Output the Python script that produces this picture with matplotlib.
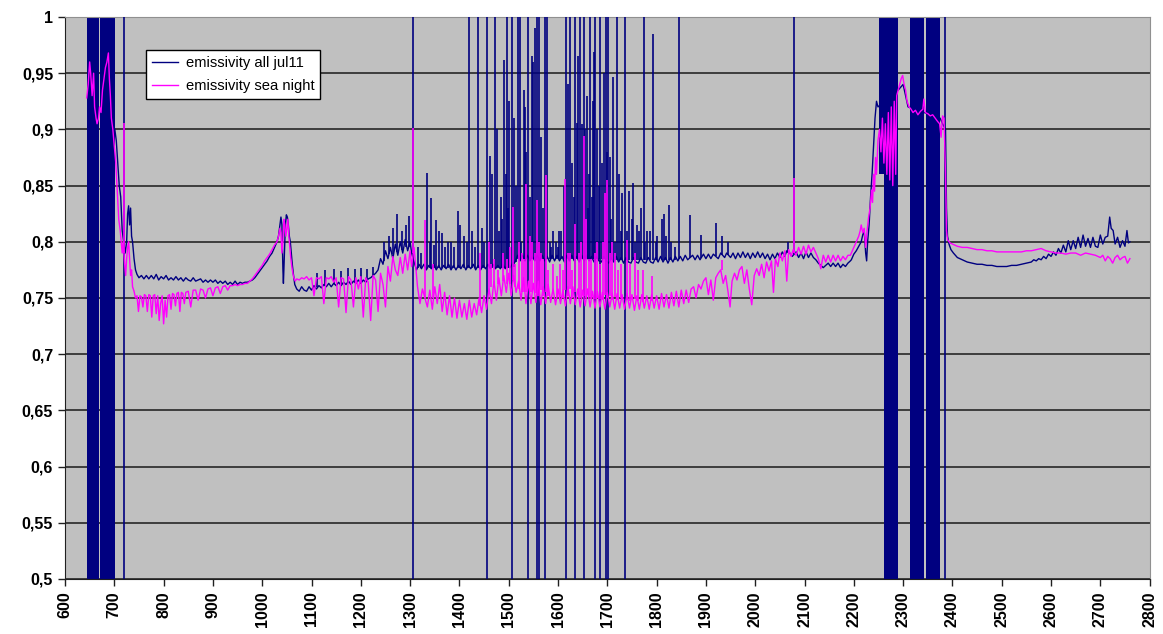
import numpy as np
import matplotlib
matplotlib.use("Agg")
import matplotlib.pyplot as plt
from matplotlib.ticker import FuncFormatter, MultipleLocator

# emissivity spectrum, wavenumber (cm-1) vs emissivity
navy_x = [
    701, 704, 707, 710, 713, 716, 719, 722, 725, 727, 729, 731, 733, 735, 737, 740, 743, 746,
    750, 755, 760, 765, 770, 775, 780, 785, 790, 795, 800, 805, 810, 815, 820, 825, 830, 835,
    840, 845, 850, 855, 860, 865, 870, 875, 880, 885, 890, 895, 900, 905, 910, 915, 920, 925,
    930, 935, 940, 945, 950, 955, 960, 965, 970, 975, 980, 985, 990, 995, 1000, 1005, 1010,
    1015, 1020, 1025, 1030, 1033, 1036, 1038, 1040, 1042, 1043, 1045, 1047, 1049, 1051, 1053,
    1055, 1057, 1059, 1061, 1063, 1066, 1070, 1075, 1080, 1085, 1090, 1095, 1100, 1105, 1110,
    1115, 1120, 1125, 1130, 1135, 1140, 1145, 1150, 1155, 1160, 1165, 1170, 1175, 1180, 1185,
    1190, 1195, 1200, 1205, 1210, 1215, 1220, 1225, 1230, 1235, 1240, 1245, 1250, 1255, 1260,
    1265, 1270, 1275, 1280, 1285, 1290, 1295, 1300, 1303,
    1308, 1313, 1318, 1323, 1328, 1333, 1338, 1343, 1348, 1353, 1358, 1363, 1368, 1373, 1378,
    1383, 1388, 1393, 1398, 1403, 1408, 1413, 1418, 1423, 1428, 1433, 1438, 1443, 1448, 1453,
    1458, 1463, 1468, 1473, 1478, 1483, 1488, 1493, 1498, 1503, 1508, 1513, 1518, 1523, 1528,
    1533, 1538, 1543, 1548, 1553, 1558, 1563, 1568, 1573, 1578, 1583, 1588, 1593, 1598, 1603,
    1608, 1613, 1618, 1623, 1628, 1633, 1638, 1643, 1648, 1653, 1658, 1663, 1668, 1673, 1678,
    1683, 1688, 1693, 1698, 1703, 1708, 1713, 1718, 1723, 1728, 1733, 1738, 1743, 1748, 1753,
    1758, 1763, 1768, 1773, 1778, 1783, 1788, 1793, 1798, 1803, 1808, 1813, 1818, 1823, 1828,
    1833, 1838, 1843, 1848, 1853, 1858, 1863, 1873, 1878, 1883, 1888, 1895, 1900, 1905, 1910,
    1915, 1925, 1930, 1938, 1942, 1950, 1955, 1960, 1965, 1970, 1975, 1980, 1985, 1990, 1995,
    2000, 2005, 2010, 2015, 2020, 2025, 2030, 2035, 2040, 2045, 2050, 2055, 2060, 2064, 2070,
    2075, 2083, 2088, 2093, 2098, 2103, 2108, 2113, 2118, 2123, 2128, 2133, 2138, 2143, 2148,
    2153, 2158, 2163, 2168, 2173, 2178, 2183, 2188, 2193, 2195, 2200, 2205, 2210, 2215, 2218,
    2221, 2224, 2226, 2228, 2231, 2234, 2237, 2240, 2243, 2246, 2249, 2290, 2300, 2310,
    2375, 2380, 2386, 2388, 2390, 2393, 2397, 2402, 2410, 2420, 2430, 2440, 2450, 2460, 2470,
    2480, 2490, 2500, 2510, 2520, 2530, 2540, 2550, 2560, 2565, 2570, 2575, 2580, 2585, 2590,
    2595, 2600, 2605, 2610, 2615, 2620, 2625, 2630, 2635, 2640, 2645, 2650, 2655, 2660, 2665,
    2670, 2675, 2680, 2685, 2690, 2695, 2700, 2705, 2710, 2715, 2719, 2722, 2726, 2730, 2735,
    2740, 2745, 2750, 2754, 2757, 2760,
]
navy_y = [
    0.900, 0.890, 0.870, 0.850, 0.840, 0.810, 0.800, 0.790, 0.800, 0.825, 0.832, 0.815, 0.830,
    0.805, 0.800, 0.785, 0.775, 0.771,
    0.768, 0.770, 0.767, 0.770, 0.767, 0.770, 0.767, 0.771, 0.766, 0.769, 0.767, 0.770, 0.766,
    0.768, 0.766, 0.769, 0.766, 0.768, 0.765, 0.768, 0.766, 0.765, 0.768, 0.765, 0.766, 0.767,
    0.764, 0.766, 0.764, 0.766, 0.764, 0.766, 0.763, 0.765, 0.763, 0.765, 0.762, 0.764, 0.762,
    0.765, 0.762, 0.764, 0.763, 0.764, 0.764, 0.765, 0.766, 0.768, 0.771, 0.774, 0.777, 0.780,
    0.783, 0.787, 0.790, 0.795, 0.800, 0.805, 0.815, 0.822, 0.815, 0.775, 0.763, 0.790, 0.815,
    0.824, 0.822, 0.815, 0.805, 0.800, 0.790, 0.780, 0.772, 0.762, 0.758, 0.756, 0.760, 0.757,
    0.756, 0.760, 0.757, 0.761, 0.758, 0.761, 0.759, 0.762, 0.760, 0.763, 0.760, 0.763, 0.761,
    0.764, 0.761, 0.764, 0.762, 0.765, 0.762, 0.765, 0.763, 0.766, 0.763, 0.766, 0.764, 0.767,
    0.768, 0.770, 0.772, 0.775, 0.785, 0.780, 0.792, 0.785, 0.795, 0.785, 0.798, 0.788, 0.800,
    0.790, 0.802, 0.792, 0.800, 0.790,
    0.782, 0.775, 0.780, 0.776, 0.780, 0.775, 0.779, 0.776, 0.780, 0.775, 0.779, 0.775, 0.779,
    0.776, 0.780, 0.775, 0.779, 0.775, 0.779, 0.776, 0.780, 0.775, 0.779, 0.776, 0.780, 0.775,
    0.779, 0.775, 0.779, 0.776, 0.780, 0.776, 0.780, 0.776, 0.779, 0.776, 0.780, 0.776, 0.780,
    0.777, 0.781, 0.782, 0.788, 0.783, 0.788, 0.783, 0.788, 0.783, 0.787, 0.783, 0.788, 0.783,
    0.788, 0.783, 0.787, 0.782, 0.788, 0.783, 0.788, 0.783, 0.787, 0.782, 0.788, 0.783, 0.788,
    0.783, 0.787, 0.782, 0.788, 0.783, 0.788, 0.783, 0.787, 0.782, 0.787, 0.783, 0.782, 0.787,
    0.783, 0.781, 0.786, 0.782, 0.787, 0.782, 0.786, 0.781, 0.786, 0.782, 0.781, 0.786, 0.782,
    0.781, 0.786, 0.782, 0.781, 0.786, 0.782, 0.781, 0.786, 0.782, 0.787, 0.782, 0.786, 0.781,
    0.786, 0.782, 0.787, 0.783, 0.787, 0.783, 0.788, 0.784, 0.788, 0.784, 0.788, 0.784, 0.789,
    0.785, 0.789, 0.785, 0.789, 0.785, 0.790, 0.786, 0.790, 0.786, 0.790, 0.785, 0.790, 0.786,
    0.791, 0.786, 0.790, 0.785, 0.790, 0.786, 0.791, 0.786, 0.790, 0.785, 0.789, 0.784, 0.789,
    0.785, 0.790, 0.786, 0.791, 0.787, 0.792, 0.790, 0.787, 0.791, 0.786, 0.790, 0.785, 0.791,
    0.786, 0.790, 0.786, 0.784, 0.781, 0.779, 0.777, 0.779, 0.781, 0.778, 0.781, 0.778, 0.781,
    0.777, 0.780, 0.778, 0.781, 0.783, 0.784, 0.789, 0.792, 0.796, 0.800, 0.806, 0.810, 0.790,
    0.783, 0.800, 0.815, 0.840, 0.860, 0.885, 0.910, 0.925, 0.920, 0.935, 0.940, 0.920,
    0.910, 0.905, 0.900, 0.830, 0.805, 0.798, 0.793, 0.790, 0.786, 0.784, 0.782, 0.781, 0.780,
    0.780, 0.779, 0.779, 0.778, 0.778, 0.778, 0.779, 0.779, 0.780, 0.781, 0.782, 0.784, 0.783,
    0.785, 0.784, 0.787, 0.785, 0.789, 0.787, 0.791, 0.788, 0.794, 0.790, 0.797, 0.791, 0.801,
    0.793, 0.801, 0.794, 0.804, 0.795, 0.806, 0.796, 0.803, 0.795, 0.804, 0.796, 0.795, 0.806,
    0.798, 0.804, 0.805, 0.822, 0.812, 0.810, 0.798, 0.804, 0.795, 0.801, 0.796, 0.810, 0.799,
    0.800,
]

# narrow lines of the navy series: position, foot, tip (1.2 / 0.4 run off the chart)
navy_spike_x = [
    720, 1112, 1128, 1145, 1160, 1175, 1188, 1200, 1212, 1225, 1247, 1258, 1266, 1273, 1283,
    1292, 1297, 1305, 1334, 1343, 1353, 1364, 1376, 1398, 1402, 1410, 1420, 1426, 1438, 1445,
    1456, 1462, 1467, 1472, 1476, 1484, 1490, 1494, 1496, 1501, 1506, 1510, 1515, 1519, 1523,
    1530, 1533, 1535, 1540, 1547, 1549, 1553, 1557, 1561, 1566, 1574, 1577, 1583, 1590, 1600,
    1607, 1613, 1617, 1621, 1624, 1628, 1635, 1638, 1641, 1645, 1648, 1652, 1655, 1658, 1662,
    1665, 1670, 1672, 1676, 1680, 1686, 1690, 1694, 1697, 1701, 1705, 1711, 1719, 1724, 1730,
    1736, 1743, 1750, 1753, 1760, 1768, 1774, 1780, 1787, 1793, 1800, 1810, 1815, 1826, 1830,
    1845, 1868, 1891, 1920, 1933, 1945, 2066, 2079, 2384,
    1315, 1322, 1340, 1349, 1358, 1370, 1382, 1390, 1415, 1432, 1450, 1480, 1487, 1498, 1525,
    1543, 1570, 1586, 1595, 1603, 1632, 1660, 1668, 1683, 1699, 1708, 1715, 1727, 1740, 1757,
    1764, 1777, 1798, 1820, 1838,
]
navy_spike_lo = [
    0.4, 0.760, 0.761, 0.762, 0.762, 0.763, 0.764, 0.764, 0.765, 0.770, 0.783, 0.789, 0.789,
    0.791, 0.793, 0.795, 0.795, 0.4, 0.777, 0.777, 0.777, 0.777, 0.777, 0.777, 0.777, 0.777,
    0.777, 0.777, 0.777, 0.777, 0.4, 0.777, 0.777, 0.777, 0.777, 0.777, 0.777, 0.777, 0.777,
    0.777, 0.4, 0.778, 0.782, 0.785, 0.785, 0.785, 0.785, 0.785, 0.4, 0.785, 0.785, 0.785, 0.4,
    0.4, 0.785, 0.4, 0.785, 0.785, 0.785, 0.785, 0.785, 0.785, 0.4, 0.785, 0.785, 0.785, 0.4,
    0.785, 0.785, 0.785, 0.785, 0.4, 0.785, 0.785, 0.785, 0.785, 0.785, 0.785, 0.4, 0.785, 0.4,
    0.785, 0.785, 0.4, 0.4, 0.784, 0.784, 0.784, 0.784, 0.784, 0.4, 0.784, 0.784, 0.784, 0.784,
    0.784, 0.784, 0.784, 0.784, 0.784, 0.784, 0.784, 0.784, 0.784, 0.784, 0.785, 0.786, 0.786,
    0.787, 0.788, 0.788, 0.790, 0.789, 0.4,
    0.777, 0.777, 0.777, 0.777, 0.777, 0.777, 0.777, 0.777, 0.777, 0.777, 0.777, 0.777, 0.777,
    0.777, 0.785, 0.785, 0.785, 0.785, 0.785, 0.785, 0.785, 0.785, 0.785, 0.785, 0.785, 0.784,
    0.784, 0.784, 0.784, 0.784, 0.784, 0.784, 0.784, 0.784, 0.784,
]
navy_spike_hi = [
    1.2, 0.772, 0.775, 0.776, 0.774, 0.777, 0.776, 0.777, 0.776, 0.778, 0.800, 0.805, 0.812,
    0.825, 0.810, 0.815, 0.823, 1.2, 0.861, 0.839, 0.819, 0.808, 0.800, 0.827, 0.815, 0.805,
    1.2, 0.810, 1.2, 0.812, 1.2, 0.876, 0.860, 1.2, 0.900, 0.840, 0.962, 0.860, 1.2, 0.925,
    1.2, 0.910, 0.850, 1.2, 1.2, 0.935, 0.920, 0.880, 1.2, 0.965, 0.960, 0.990, 1.2, 1.2,
    0.893, 1.2, 1.2, 0.800, 0.810, 0.795, 0.810, 0.850, 1.2, 0.940, 1.2, 0.870, 1.2, 0.906,
    0.965, 1.2, 0.905, 1.2, 0.900, 0.930, 0.860, 1.2, 0.925, 0.969, 1.2, 0.900, 1.2, 0.870,
    0.950, 1.2, 1.2, 0.875, 0.947, 1.2, 0.860, 0.843, 1.2, 0.845, 0.820, 0.852, 0.815, 0.830,
    1.2, 0.810, 0.810, 0.985, 0.805, 0.820, 0.825, 0.833, 0.800, 1.2, 0.824, 0.806, 0.817,
    0.805, 0.800, 0.800, 1.2, 1.2,
    0.795, 0.790, 0.800, 0.797, 0.810, 0.795, 0.800, 0.795, 0.800, 0.795, 0.800, 0.810, 0.820,
    0.830, 0.800, 0.840, 0.830, 0.795, 0.800, 0.810, 0.840, 0.830, 0.840, 0.850, 0.880, 0.820,
    0.800, 0.810, 0.810, 0.800, 0.810, 0.800, 0.800, 0.805, 0.795,
]

magenta_x = [
    644, 647, 650, 652, 655, 658, 660, 663, 665, 668, 670, 673, 676, 679, 682, 685, 688, 690,
    692, 694, 697, 700, 703, 706, 709, 712, 714, 716, 718, 721, 723, 725, 727, 729, 731,
    733, 735, 737, 740, 743, 746, 749, 752, 755, 758, 761, 764, 767, 770, 773, 776, 779, 782,
    785, 788, 791, 794, 797, 800, 803, 806, 809, 812, 815, 818, 821, 824, 827, 830, 833, 836,
    839, 842, 845, 850, 855, 860, 865, 870, 875, 880, 885, 890, 895, 900, 905, 910, 915, 920,
    925, 930, 935, 940, 945, 950, 955, 960, 965, 970, 975, 980, 985, 990, 995, 1000, 1005,
    1010, 1015, 1020, 1025, 1030, 1033, 1036, 1038, 1040, 1042, 1044, 1046, 1048, 1050, 1052,
    1054, 1056, 1058, 1061, 1064, 1067, 1070, 1075, 1080, 1085, 1090, 1095, 1100, 1105, 1110,
    1115, 1120, 1125, 1130, 1135, 1140, 1145, 1150, 1155, 1160, 1165, 1170, 1175, 1180, 1185,
    1190, 1195, 1200, 1205, 1210, 1215, 1220, 1225, 1230, 1235, 1240, 1245, 1250, 1255, 1260,
    1265, 1270, 1275, 1280, 1285, 1290, 1295, 1300, 1303, 1308, 1311, 1315, 1320, 1325, 1335,
    1340, 1345, 1350, 1355, 1360, 1365, 1370, 1375, 1380, 1385, 1390, 1395, 1400, 1405, 1410,
    1415, 1420, 1425, 1430, 1435, 1440, 1445, 1450, 1455, 1460, 1465, 1470, 1475, 1480, 1485,
    1490, 1495, 1500, 1505, 1510, 1515, 1520, 1525, 1530, 1535, 1540, 1545, 1550, 1555, 1560,
    1565, 1570, 1575, 1580, 1585, 1590, 1595, 1600, 1605, 1610, 1615, 1620, 1625, 1630, 1635,
    1640, 1645, 1650, 1655, 1660, 1665, 1670, 1675, 1680, 1685, 1690, 1695, 1700, 1705, 1710,
    1715, 1720, 1725, 1730, 1735, 1740, 1745, 1750, 1755, 1760, 1765, 1770, 1775, 1780, 1785,
    1790, 1795, 1800, 1805, 1810, 1815, 1820, 1825, 1830, 1835, 1840, 1845, 1850, 1855, 1860,
    1865, 1870, 1875, 1880, 1885, 1890, 1895, 1900, 1905, 1910, 1915, 1920, 1925, 1930, 1935,
    1940, 1945, 1949, 1953, 1958, 1963, 1968, 1973, 1978, 1983, 1988, 1993, 1998, 2003, 2008,
    2013, 2018, 2023, 2028, 2033, 2037, 2041, 2046, 2050, 2055, 2060, 2064, 2068, 2073, 2077,
    2083, 2088, 2093, 2098, 2103, 2108, 2113, 2118, 2123, 2128, 2133, 2138, 2143, 2148, 2153,
    2158, 2163, 2168, 2173, 2178, 2183, 2188, 2193, 2195, 2200, 2205, 2210, 2213, 2215, 2218,
    2221, 2224, 2227, 2230, 2233, 2236, 2238, 2240, 2242, 2244, 2246, 2248, 2249, 2252, 2255,
    2258, 2261, 2264, 2267, 2270, 2273, 2276, 2279, 2282, 2285, 2287, 2290, 2293, 2296, 2299,
    2302, 2305, 2308, 2312, 2316, 2320, 2325, 2330, 2335, 2340, 2342, 2345, 2350, 2355, 2360,
    2365, 2370, 2374, 2377, 2380, 2383, 2386, 2388, 2390, 2395, 2400, 2410, 2420, 2430, 2440,
    2450, 2460, 2470, 2480, 2490, 2500, 2510, 2520, 2530, 2540, 2550, 2560, 2570, 2580, 2590,
    2600, 2610, 2620, 2630, 2640, 2650, 2660, 2670, 2680, 2690, 2700, 2705, 2710, 2715, 2720,
    2725, 2730, 2735, 2740, 2745, 2750, 2755, 2760,
]
magenta_y = [
    0.928, 0.940, 0.960, 0.950, 0.930, 0.950, 0.920, 0.910, 0.905, 0.910, 0.920, 0.915, 0.935,
    0.945, 0.955, 0.960, 0.968, 0.945, 0.930, 0.910, 0.900, 0.885, 0.870, 0.845, 0.820, 0.810,
    0.800, 0.790, 0.800, 0.780, 0.770, 0.785, 0.795, 0.800, 0.785, 0.770, 0.775, 0.760,
    0.756, 0.750, 0.752, 0.738, 0.752, 0.751, 0.742, 0.753, 0.752, 0.738, 0.753, 0.752, 0.733,
    0.752, 0.753, 0.736, 0.752, 0.730, 0.745, 0.752, 0.727, 0.748, 0.733, 0.752, 0.753, 0.740,
    0.754, 0.753, 0.743, 0.754, 0.755, 0.738, 0.755, 0.754, 0.745, 0.755, 0.756, 0.742, 0.757,
    0.757, 0.748, 0.758, 0.757, 0.750, 0.758, 0.759, 0.752, 0.759, 0.760, 0.754, 0.760, 0.761,
    0.757, 0.761, 0.761, 0.762, 0.761, 0.762, 0.762, 0.763, 0.763, 0.765, 0.767, 0.770, 0.773,
    0.776, 0.779, 0.783, 0.786, 0.789, 0.793, 0.797, 0.800, 0.805, 0.812, 0.808, 0.790, 0.800,
    0.820, 0.815, 0.805, 0.812, 0.820, 0.805, 0.795, 0.785, 0.775, 0.768, 0.765, 0.767, 0.766,
    0.768, 0.767, 0.769, 0.766, 0.768, 0.752, 0.768, 0.767, 0.769, 0.745, 0.768, 0.767, 0.769,
    0.764, 0.768, 0.742, 0.768, 0.767, 0.737, 0.769, 0.766, 0.742, 0.768, 0.758, 0.769, 0.733,
    0.768, 0.764, 0.730, 0.770, 0.766, 0.738, 0.772, 0.762, 0.742, 0.778, 0.765, 0.787, 0.775,
    0.770, 0.786, 0.772, 0.789, 0.775, 0.792, 0.778, 0.795, 0.780, 0.760, 0.745, 0.758, 0.742,
    0.757, 0.740, 0.760, 0.745, 0.762, 0.738, 0.755, 0.735, 0.752, 0.733, 0.750, 0.732, 0.748,
    0.733, 0.745, 0.731, 0.748, 0.733, 0.745, 0.735, 0.750, 0.737, 0.752, 0.740, 0.758, 0.745,
    0.765, 0.748, 0.768, 0.752, 0.770, 0.755, 0.772, 0.752, 0.770, 0.755, 0.765, 0.748, 0.768,
    0.745, 0.765, 0.745, 0.763, 0.746, 0.765, 0.744, 0.760, 0.745, 0.762, 0.746, 0.758, 0.744,
    0.758, 0.745, 0.757, 0.743, 0.760, 0.745, 0.760, 0.744, 0.758, 0.742, 0.757, 0.743, 0.758,
    0.742, 0.756, 0.741, 0.756, 0.742, 0.755, 0.740, 0.755, 0.742, 0.754, 0.740, 0.754, 0.741,
    0.753, 0.740, 0.754, 0.741, 0.753, 0.739, 0.752, 0.740, 0.753, 0.741, 0.752, 0.740, 0.753,
    0.741, 0.752, 0.740, 0.754, 0.742, 0.753, 0.741, 0.755, 0.743, 0.756, 0.742, 0.757, 0.745,
    0.757, 0.746, 0.758, 0.760, 0.750, 0.762, 0.758, 0.765, 0.768, 0.753, 0.766, 0.748, 0.768,
    0.772, 0.775, 0.763, 0.770, 0.755, 0.742, 0.765, 0.772, 0.766, 0.775, 0.778, 0.763, 0.775,
    0.758, 0.744, 0.770, 0.776, 0.770, 0.780, 0.768, 0.782, 0.774, 0.783, 0.755, 0.785, 0.778,
    0.790, 0.783, 0.792, 0.765, 0.793, 0.787, 0.793, 0.788, 0.795, 0.789, 0.796, 0.789, 0.797,
    0.791, 0.795, 0.790, 0.785, 0.776, 0.788, 0.782, 0.788, 0.782, 0.788, 0.783, 0.788, 0.783,
    0.787, 0.784, 0.788, 0.788, 0.790, 0.795, 0.800, 0.805, 0.810, 0.815, 0.808, 0.812, 0.795,
    0.810, 0.822, 0.830, 0.846, 0.835, 0.860, 0.845, 0.875, 0.860, 0.880, 0.890, 0.900, 0.880,
    0.910, 0.870, 0.905, 0.860, 0.915, 0.855, 0.920, 0.850, 0.925, 0.860, 0.930, 0.935, 0.940,
    0.945, 0.948, 0.940, 0.935, 0.925, 0.920, 0.918, 0.915, 0.917, 0.913, 0.916, 0.918, 0.927,
    0.915, 0.914, 0.912, 0.913, 0.910, 0.907, 0.905, 0.893, 0.912, 0.910, 0.860, 0.810, 0.802,
    0.799, 0.798, 0.796, 0.795, 0.795, 0.794, 0.793, 0.793, 0.792, 0.792, 0.791, 0.791, 0.791,
    0.791, 0.791, 0.791, 0.792, 0.792, 0.793, 0.794, 0.792, 0.791, 0.790, 0.790, 0.789, 0.790,
    0.790, 0.788, 0.790, 0.789, 0.788, 0.786, 0.788, 0.783, 0.787, 0.785, 0.781, 0.786, 0.788,
    0.784, 0.786, 0.787, 0.781, 0.785,
]

# narrow lines of the magenta series: position, foot, tip
magenta_spike_x = [
    719.5, 1305, 1330, 1347, 1442, 1459, 1489, 1508, 1520, 1536, 1548, 1558, 1566, 1575, 1590,
    1605, 1615, 1625, 1635, 1642, 1652, 1662, 1680, 1695, 1700, 1706, 1716, 1728, 1739, 1756,
    1772, 1790, 1932, 2079,
    1465, 1470, 1478, 1497, 1503, 1512, 1527, 1531, 1544, 1553, 1562, 1570, 1580, 1597, 1610,
    1620, 1628, 1647, 1657, 1667, 1674, 1686, 1691, 1710, 1722, 1745, 1763,
]
magenta_spike_lo = [
    0.790, 0.790, 0.750, 0.750, 0.743, 0.755, 0.765, 0.766, 0.758, 0.755, 0.755, 0.752, 0.757,
    0.755, 0.755, 0.751, 0.757, 0.758, 0.755, 0.750, 0.752, 0.751, 0.750, 0.753, 0.750, 0.752,
    0.751, 0.750, 0.748, 0.749, 0.746, 0.747, 0.775, 0.790,
    0.760, 0.760, 0.762, 0.762, 0.762, 0.760, 0.755, 0.755, 0.755, 0.754, 0.752, 0.752, 0.752,
    0.751, 0.750, 0.752, 0.750, 0.750, 0.750, 0.749, 0.749, 0.749, 0.748, 0.748, 0.748, 0.747,
    0.747,
]
magenta_spike_hi = [
    0.906, 0.901, 0.819, 0.780, 0.790, 0.800, 0.790, 0.831, 0.800, 0.851, 0.800, 0.837, 0.790,
    0.859, 0.780, 0.780, 0.856, 0.790, 0.816, 0.790, 0.894, 0.785, 0.800, 0.843, 0.855, 0.790,
    0.790, 0.780, 0.802, 0.790, 0.775, 0.770, 0.784, 0.857,
    0.780, 0.785, 0.775, 0.785, 0.795, 0.780, 0.790, 0.785, 0.805, 0.790, 0.800, 0.785, 0.775,
    0.770, 0.775, 0.790, 0.775, 0.800, 0.820, 0.785, 0.790, 0.780, 0.800, 0.800, 0.775, 0.780,
    0.775,
]

# saturated regions of the navy series (start, end, low, high)
band_x0 = [645, 670, 2251, 2261, 2314, 2346]
band_x1 = [668, 700.5, 2261, 2289, 2342, 2374]
band_lo = [0.5, 0.5, 0.86, 0.5, 0.5, 0.5]
band_hi = [1.0, 1.0, 1.0, 1.0, 1.0, 1.0]

NAVY = "#000080"
PINK = "#FF00FF"

plt.rcParams["font.family"] = ["Liberation Sans", "DejaVu Sans"]

fig = plt.figure(figsize=(11.63, 6.34), dpi=100)
ax = fig.add_axes([0.0559, 0.0868, 0.9326, 0.8864])
ax.set_facecolor("#C0C0C0")

for x0, x1, lo, hi in zip(band_x0, band_x1, band_lo, band_hi):
    ax.fill_between([x0, x1], lo, hi, color=NAVY, linewidth=0, zorder=2)

ax.vlines(navy_spike_x, navy_spike_lo, navy_spike_hi, color=NAVY, lw=1.2, zorder=3)
ax.plot(navy_x, navy_y, color=NAVY, lw=1.0, zorder=3, label="emissivity all jul11")
ax.vlines(magenta_spike_x, magenta_spike_lo, magenta_spike_hi, color=PINK, lw=1.2, zorder=4)
ax.plot(magenta_x, magenta_y, color=PINK, lw=1.0, zorder=4, label="emissivity sea night")

ax.set_xlim(600, 2800)
ax.set_ylim(0.5, 1.0)
ax.xaxis.set_major_locator(MultipleLocator(100))
ax.yaxis.set_major_locator(MultipleLocator(0.05))
ax.yaxis.set_major_formatter(FuncFormatter(lambda v, p: f"{v:g}".replace(".", ",")))
ax.grid(axis="y", color="#1a1a1a", lw=1.1, zorder=1)
ax.set_axisbelow(True)

for lab in ax.get_xticklabels():
    lab.set_rotation(90)
ax.tick_params(axis="both", direction="out", length=5, width=1, color="#202020",
               labelsize=11.5)
ax.tick_params(axis="x", pad=4)
for lab in ax.get_xticklabels() + ax.get_yticklabels():
    lab.set_fontweight("bold")

for side in ("top", "right"):
    ax.spines[side].set_color("#909090")
for side in ("left", "bottom"):
    ax.spines[side].set_color("#202020")

leg = ax.legend(loc="upper left", bbox_to_anchor=(0.0745, 0.941), fontsize=10.6,
                frameon=True, fancybox=False, framealpha=1, edgecolor="black",
                handlelength=1.8, handletextpad=0.5, borderpad=0.4, labelspacing=0.6,
                borderaxespad=0)
leg.get_frame().set_linewidth(1.0)

fig.savefig("out.png", dpi=100)
